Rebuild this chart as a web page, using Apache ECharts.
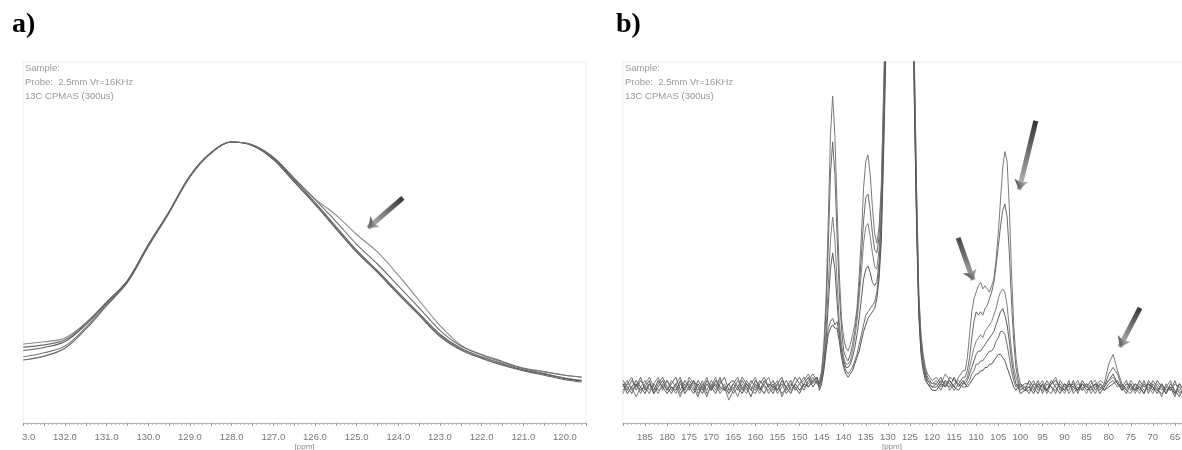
<!DOCTYPE html>
<html><head><meta charset="utf-8">
<script src="https://cdn.jsdelivr.net/npm/echarts@6/dist/echarts.min.js"></script>
<style>
html,body{margin:0;padding:0;overflow:hidden;background:#fff;width:1182px;height:450px}
#main{position:absolute;left:0;top:0;width:1200px;height:450px}
#pa{position:absolute;left:22px;top:0;width:568px;height:450px}
</style></head>
<body><div id="main"></div><div id="pa"></div>
<script>
// ---------- Panel a: 13C CPMAS, 133–119.6 ppm (normalised intensity, peak = 100)
const ppmA = [133.0,132.5,132.0,131.5,131.0,130.5,130.0,129.5,129.0,128.5,128.0,127.5,127.0,126.5,126.0,125.5,125.0,124.5,124.0,123.5,123.0,122.5,122.0,121.5,121.0,120.5,120.0,119.6];
const a1 = [28.1,28.9,30.3,35.7,43.0,50.5,63.3,75.1,87.9,96.1,100,98.9,94.5,87.0,79.8,74.1,67.1,60.9,52.6,43.6,34.7,27.7,24.2,21.6,19.6,18.3,17.0,16.3];
const a2 = [27.0,27.8,29.6,35.4,43.0,50.8,63.5,75.3,88.0,96.2,100,99.0,94.6,87.2,79.6,71.8,63.6,56.6,48.8,41.0,33.0,27.4,24.4,21.9,19.4,17.6,16.0,15.2];
const a3 = [25.8,26.9,29.0,35.0,42.8,50.6,63.4,75.2,88.0,96.1,100,98.9,94.3,86.5,78.5,70.0,61.5,54.2,46.5,39.0,31.6,26.6,23.6,21.0,18.9,17.4,15.8,15.0];
const a4 = [23.6,25.0,27.4,34.0,42.2,50.2,63.0,75.0,87.8,96.0,100,98.8,94.0,86.0,78.0,69.4,61.0,53.8,46.0,38.6,31.2,26.3,23.4,21.2,19.4,18.2,17.0,16.4];
const a5 = [22.4,23.8,26.6,33.4,41.8,50.0,62.8,74.8,87.6,96.0,100,98.7,93.8,85.8,77.8,69.2,60.8,53.6,45.8,38.3,30.8,26.0,23.0,20.6,18.6,17.0,15.4,14.6];
const arrowA = [[123.89, 80.1], [124.73, 69.4]];

// ---------- Panel b: 190–63 ppm (intensity, 143 ppm tallest = 100)
const ppmB = [
190,189,188,187,186,185,184,183,182,181,180,179,178,177,176,175,174,173,172,171,170,169,168,167,166,165,164,163,162,161,160,159,158,157,156,155,154,153,152,151,150,149,148,147,146,
145.5,145,144.5,144,143.5,143,142.5,142,141.5,141,140.5,140,139.5,139,138.5,138,137.5,137,136.5,136,135.5,135,134.5,134,133.5,133,132.5,132,131.5,131,130.5,130,129,128,127,126,125,124.5,124,123.5,123,122.5,122,121.5,121,120,
119,118,117,116,115,114,113,
112.5,112,111.5,111,110.5,110,109.5,109,108.5,108,107.5,107,106.5,106,105.5,105,104.5,104,103.5,103,102.5,102,101.5,101,100.5,100,99,
98,97,96,95,94,93,92,91,90,89,88,87,86,85,84,83,82,81,80,79,78,77,76,75,74,73,72,71,70,69,68,67,66,65,64,63];
const b1 = [
11,13,10,12,9,12,14,11,9,12,10,13,11,8,12,10,13,9,11,14,10,12,9,11,7,10,13,11,9,12,14,10,12,9,11,13,8,11,13,10,12,14,11,13,12,
13,16,24,38,62,88,100,88,66,46,32,26,23,22,24,27,30,35,45,57,72,80,82,76,66,58,55,60,72,100,130,170,260,320,335,310,240,170,112,72,40,27,21,17,15,13,
14,12,15,13,11,14,16,
16,20,27,34,38,40,42,43,41,42,41,40,42,44,50,58,68,78,83,80,66,46,30,20,15,12,11,
11,13,10,12,9,12,14,10,12,9,11,13,10,12,9,11,13,12,18,21,16,12,10,13,11,9,12,10,13,11,8,12,10,13,9,11];
const b2 = [
12,10,13,11,14,10,12,9,12,14,11,9,12,14,10,13,11,8,12,10,13,11,14,10,12,9,11,14,12,10,9,12,14,11,13,10,12,9,11,14,12,10,13,15,13,
12,15,22,34,54,76,86,76,57,40,29,22,20,19,21,24,28,33,41,51,62,69,70,65,58,53,52,57,70,96,126,165,255,315,330,305,235,165,108,70,39,26,20,16,14,12,
12,14,11,14,13,12,14,
14,16,20,26,31,34,33,34,33,35,36,38,40,43,48,54,60,65,67,63,52,37,25,17,13,11,12,
12,10,13,9,12,11,9,13,11,10,13,9,12,11,13,10,12,11,15,17,15,11,13,10,12,11,9,13,11,10,12,9,11,8,12,10];
const b3 = [
9,12,11,8,11,13,10,12,14,10,13,11,9,12,10,14,12,10,13,9,11,14,10,12,9,11,8,12,10,13,11,9,12,14,10,12,9,11,13,10,12,13,15,12,14,
11,14,19,28,42,56,63,56,43,31,24,20,18,18,19,22,26,31,38,46,55,60,61,57,52,48,47,53,66,92,122,160,250,312,326,300,230,160,104,66,36,24,19,15,13,12,
13,11,13,10,12,13,12,
13,14,17,20,23,25,26,27,26,28,29,30,31,33,35,38,40,41,40,36,29,22,17,14,12,11,10,
10,12,11,13,10,9,12,11,9,12,10,12,11,9,12,13,10,12,13,14,12,10,11,12,9,12,10,11,9,12,10,11,13,9,10,12];
const b4 = [
13,11,9,12,10,11,13,9,11,13,10,12,14,10,13,11,9,12,10,13,11,9,12,14,10,12,10,13,11,8,12,10,13,11,9,12,14,10,12,11,9,12,14,11,13,
12,14,18,25,36,47,52,47,37,28,22,19,17,17,18,20,23,27,32,38,44,47,48,46,43,42,43,49,62,88,118,155,245,305,320,296,226,158,102,64,35,23,18,15,13,11,
11,13,12,11,14,11,13,
12,13,15,17,19,21,22,22,23,24,25,26,27,28,30,32,34,35,33,30,25,19,15,12,11,12,10,
13,11,9,12,10,13,11,9,12,11,12,10,13,11,10,12,9,11,13,15,12,11,9,12,10,13,11,12,10,13,11,9,12,10,8,11];
const b5 = [
10,12,14,10,13,11,9,12,10,11,13,10,12,9,11,12,10,13,11,8,12,10,13,11,9,12,14,10,13,11,10,13,11,10,12,9,11,13,10,12,14,11,12,14,12,
11,13,17,23,29,31,32,30,31,27,22,18,16,15,16,17,19,21,24,27,30,33,34,35,36,37,40,46,58,84,114,150,240,300,316,292,222,155,100,62,34,22,17,14,12,11,
12,10,13,12,10,12,11,
11,12,13,15,16,18,18,19,19,20,21,22,22,23,25,26,28,28,27,24,20,16,13,11,12,10,11,
9,12,11,10,13,11,10,12,10,13,9,11,10,12,11,9,12,10,12,13,11,12,10,9,12,10,13,9,12,10,9,11,10,12,11,9];
const b6 = [
12,9,11,13,11,9,12,10,13,11,9,11,10,13,9,11,13,11,9,12,10,13,11,10,12,13,11,9,12,10,13,11,9,12,11,10,13,11,9,12,10,12,11,13,14,
10,12,16,22,27,29,30,29,29,25,20,17,15,14,15,16,18,20,22,25,28,30,32,33,34,35,38,44,55,80,110,146,236,296,312,288,218,152,98,60,33,21,16,13,12,10,
10,12,11,13,11,10,12,
12,11,12,13,14,15,15,16,16,17,17,18,18,19,20,21,21,20,19,17,15,13,11,10,11,9,10,
11,9,12,11,10,12,13,11,10,12,11,10,12,10,11,12,11,10,11,12,13,10,12,11,10,11,9,12,11,9,12,10,11,9,12,10];
const arrowsB = [
  [[96.5, 92.4], [100.3, 71.3]],
  [[114.1, 56.6], [110.7, 43.7]],
  [[72.9, 35.2], [77.5, 23.2]]
];

const headerText = 'Sample:\nProbe:  2.5mm Vr=16KHz\n13C CPMAS (300us)';
const colorsA = ['#8a8a8a', '#6e6e6e', '#5c5c5c', '#777777', '#666666'];
const colorsB = ['#7a7a7a', '#6a6a6a', '#808080', '#5e5e5e', '#707070', '#555555'];

function arrowGradient() {
  return new echarts.graphic.LinearGradient(1, 0, 0, 1, [
    {offset: 0, color: '#2e2e2e'}, {offset: 1, color: '#c4c4c4'}
  ]);
}
function arrowMarkLine(list) {
  return {
    silent: true, animation: false,
    symbol: ['none', 'arrow'], symbolSize: [11, 10],
    label: {show: false},
    lineStyle: {width: 5, type: 'solid', color: arrowGradient(), opacity: 1},
    emphasis: {disabled: true},
    data: list.map(a => [{coord: a[0]}, {coord: a[1]}])
  };
}
function xAxisBase(extra) {
  return Object.assign({
    type: 'value', inverse: true,
    splitLine: {show: false},
    axisLine: {show: true, lineStyle: {color: '#b0b0b0', width: 1}},
    axisTick: {show: true, length: 3, lineStyle: {color: '#999'}},
    minorTick: {show: true, splitNumber: 5, length: 2, lineStyle: {color: '#bbb'}},
    name: '[ppm]', nameLocation: 'middle', nameGap: 20, nameMoveOverlap: false,
    nameTextStyle: {fontSize: 8, color: '#888', fontFamily: 'Liberation Sans'}
  }, extra);
}
const labelStyle = {color: '#777', fontSize: 9.5, fontFamily: 'Liberation Sans', margin: 9};

// ---------- main chart (titles + panel b)
const main = echarts.init(document.getElementById('main'), null, {renderer: 'canvas'});
main.setOption({
  animation: false,
  backgroundColor: '#fff',
  graphic: [
    {type: 'text', left: 12, top: 11, style: {text: 'a)', font: 'bold 28px "Liberation Serif"', fill: '#000'}},
    {type: 'text', left: 616, top: 11, style: {text: 'b)', font: 'bold 28px "Liberation Serif"', fill: '#000'}},
    {type: 'text', left: 25, top: 61, z: 10, style: {text: headerText, font: '9.5px "Liberation Sans"', lineHeight: 14, fill: '#9a9a9a'}},
    {type: 'text', left: 625, top: 61, z: 10, style: {text: headerText, font: '9.5px "Liberation Sans"', lineHeight: 14, fill: '#9a9a9a'}}
  ],
  grid: {left: 622.9, right: 3, top: 62, bottom: 27, containLabel: false, outerBoundsMode: 'none',
         show: true, borderColor: '#eeeeee', borderWidth: 1, backgroundColor: 'transparent'},
  xAxis: xAxisBase({
    min: 60, max: 190, interval: 5,
    axisLabel: Object.assign({showMaxLabel: false}, labelStyle),
    nameTextStyle: {fontSize: 8, color: '#888', fontFamily: 'Liberation Sans', padding: [0, 36, 0, 0]}
  }),
  yAxis: {type: 'value', min: 0, max: 110.4, show: false},
  series: [b1, b2, b3, b4, b5, b6].map((arr, k) => ({
    type: 'line', name: 'b' + (k + 1), showSymbol: false, symbol: 'none', silent: true, clip: true,
    lineStyle: {width: 1, color: colorsB[k]},
    data: ppmB.map((p, i) => [p, arr[i]]),
    markLine: k === 0 ? arrowMarkLine(arrowsB) : undefined
  }))
});

// ---------- panel a chart (its canvas starts at x=22 so the 133.0 label is cut like the original)
const pa = echarts.init(document.getElementById('pa'), null, {renderer: 'canvas'});
pa.setOption({
  animation: false,
  backgroundColor: 'transparent',
  grid: {left: 1.3, right: 4.2, top: 62, bottom: 27, containLabel: false, outerBoundsMode: 'none',
         show: true, borderColor: '#eeeeee', borderWidth: 1},
  xAxis: xAxisBase({
    min: 119.5, max: 133, interval: 0.5,
    axisLabel: Object.assign({
      formatter: v => Math.abs(v - Math.round(v)) < 1e-6 ? v.toFixed(1) : ''
    }, labelStyle)
  }),
  yAxis: {type: 'value', min: 0, max: 128.5, show: false},
  series: [a1, a2, a3, a4, a5].map((arr, k) => ({
    type: 'line', name: 'a' + (k + 1), showSymbol: false, symbol: 'none', silent: true, smooth: 0.35,
    lineStyle: {width: 1.1, color: colorsA[k]},
    data: ppmA.map((p, i) => [p, arr[i]]),
    markLine: k === 0 ? arrowMarkLine([arrowA]) : undefined
  }))
});
</script></body></html>
